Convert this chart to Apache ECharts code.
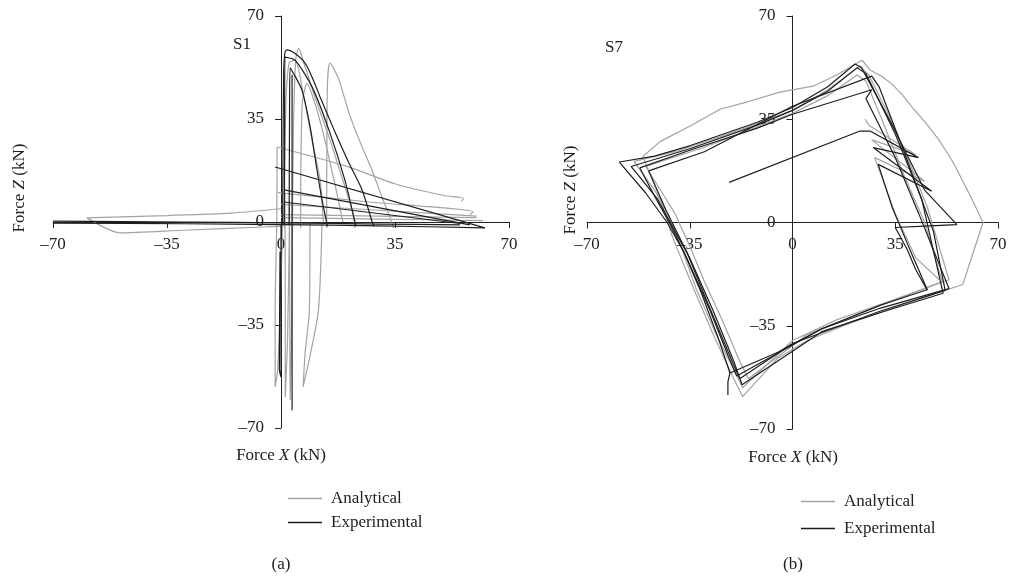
<!DOCTYPE html>
<html>
<head>
<meta charset="utf-8">
<script src="https://cdn.jsdelivr.net/npm/echarts@6/dist/echarts.min.js"></script>
<style>
  html, body { margin: 0; padding: 0; background: #fff; }
  #main { width: 1010px; height: 582px; }
</style>
</head>
<body>
<div id="main"></div>
<script>
// 刻度
var ticks = [-70, -35, 0, 35, 70];

// S1 试验曲线 (Force X, Force Z)
var expA = [
    [[-70, 0.3], [-30, 0], [0, -0.3], [30, -0.7], [55, -1]],
    [[-70, -0.4], [-30, -0.6], [0, -0.9], [30, -1.3], [62.6, -2]],
    [[0.5, -1], [0.6, 20], [0.8, 50], [1.2, 57.5], [1.8, 58.5], [4, 57.5], [7.4, 54], [10, 48], [12, 42.5], [16.3, 31.3], [20.9, 20], [24.9, 10.9], [28, 0], [28.5, -1.5]],
    [[1, -1], [1.1, 30], [1.2, 56], [4.3, 55], [9.5, 46], [14.7, 31.3], [19.6, 14.3], [22.7, 0], [23, -1.5]],
    [[2.5, -1], [2.6, 30], [2.8, 52.4], [6.4, 44.9], [9, 32], [11, 18], [12.5, 8], [14, 0], [14.3, -1.5]],
    [[3.4, 50], [3.4, 0], [3.4, -30], [3.4, -64]],
    [[0, -1], [0, -30], [0, -52.7], [-0.5, -50], [-0.3, -10]],
    [[62.6, -2], [-1.8, 18.7]],
    [[58, -1], [0.9, 10.9]],
    [[55, -0.5], [0.9, 6.8]]
];

// S1 分析曲线
var anaA = [
    [[3.5, -5], [3.8, 30], [4.5, 55], [5.4, 59], [7.4, 52.7], [10.4, 42.5], [14.7, 29], [18.7, 15.3], [21.8, 4], [22.5, 0], [22.6, -2]],
    [[14, -2], [14.1, 30], [14.3, 48], [15, 54], [16, 52.5], [17.8, 48.3], [20.9, 37], [24, 27.9], [27.9, 17.7], [31, 8.5], [34, 0], [34.5, -2]],
    [[1, -2], [1.5, 40], [2.5, 54], [4.3, 55], [7, 42.6], [9.5, 27.9], [12, 14.3], [13, 0]],
    [[6, -2], [6.5, 40], [8, 47], [10.5, 40], [13, 30], [15.5, 18], [17.5, 8], [19, 0]],
    [[-1.2, 25.5], [-1.3, 0], [-1.8, -30], [-1.8, -56], [-1, -50], [0, -20], [0.5, 0]],
    [[1.2, 10], [1.3, -20], [1.3, -59.5], [2, -40], [2.6, 0]],
    [[2.6, 5], [2.7, -30], [2.8, -60.5], [3.2, -40], [3.5, -5]],
    [[8.9, 0], [8.7, -30], [7.4, -44.5], [6.8, -56], [9, -45], [11.5, -30], [12.6, 0]],
    [[-1.2, 25.5], [20, 19], [35, 13], [50, 9], [56, 8], [55.5, 7]],
    [[-1, 10], [27, 6.8], [59, 3.4], [58, 2.5]],
    [[0, 6], [30, 4], [60, 2]],
    [[-59.6, 1.4], [-35, 2.2], [-15.7, 3], [0, 4.5]],
    [[-59.6, 1.4], [-49.4, -3.7], [-30, -2.8], [-5.5, -1.7], [0, -1.5]],
    [[0, 1.5], [30, 1], [62, 0.5]],
    [[0, 2.5], [30, 2], [60, 1.5]]
];

// S7 试验曲线
var expB = [
    [[-59, 20.5], [-47, 22.5], [-35, 26], [-12, 34], [0, 39], [12, 46], [21.3, 53.7], [23.5, 52.5], [34, 33], [45, 11], [56, -0.7], [45, -1.2], [35, -1.7], [39, -9], [42, -16], [45.8, -22.8], [30, -28], [10, -36], [-5, -44], [-21.3, -51], [-22, -54], [-22, -58.5]],
    [[-21.3, -51], [-25, -40], [-31, -24], [-37, -10], [-42.7, 0], [-50, 10], [-59, 20.5]],
    [[-55, 19], [-35, 25], [-12, 33], [0, 38], [12, 44.5], [22, 52.5], [25, 50.5], [35, 30], [44, 8], [51.3, -24], [30, -30.5], [10, -37], [-17.2, -55], [-20, -47], [-27, -30], [-35, -12], [-40, -3], [-46, 8], [-55, 19]],
    [[-52, 18.5], [-35, 24.5], [-12, 32], [0, 36.7], [27, 45], [25, 42], [35, 22], [43, 3], [53.3, -22.4], [30, -29], [10, -36], [-19, -52], [-22, -45], [-28, -30], [-36, -12], [-42, 0], [-47, 9], [-52, 18.5]],
    [[-49, 17.5], [-30, 24], [0, 39.4], [27, 49.6], [29.5, 46], [38, 24], [48, -3], [52, -23], [30, -30], [0, -41], [-18, -53], [-21, -46], [-29, -27], [-36, -10], [-43, 4], [-49, 17.5]],
    [[-21.6, 13.6], [23, 31], [26.4, 31], [42.9, 22], [27.5, 25.4], [47.4, 10.6], [29.2, 19.7], [34, 5], [40, -9.2], [46, -23]]
];

// S7 分析曲线
var anaB = [
    [[-51, 22.4], [-45, 27.5], [-35, 32.6], [-24.7, 38.4], [-15, 41], [-4.3, 44.2], [7, 46.2], [15, 50], [23.7, 55], [26.4, 51.7], [30.5, 49.5], [33.9, 46.9], [37.5, 43.2], [41, 38.8], [44, 35.4], [46.8, 32], [49.8, 28.1], [52.6, 23.8], [55.3, 19.3], [57.7, 14.6], [60.3, 9.6], [62.8, 4.4], [64, 1.9], [64.9, 0], [58, -21], [40, -27], [20, -34], [5, -40], [-5, -46], [-17, -59], [-20, -53], [-27, -38], [-33, -24], [-38, -12], [-41, -4.6], [-45, 8], [-51, 22.4]],
    [[-54, 20.7], [-40, 24], [-25, 29], [-12, 33.5], [0, 38], [12, 45], [23, 53], [26, 50], [33, 36], [40, 20], [46, 5], [53.3, -19.4], [35, -26], [15, -33], [0, -40], [-17, -56], [-20, -50], [-26, -38], [-33, -22], [-38, -8], [-42, 2], [-47, 11], [-54, 20.7]],
    [[-50, 19], [-30, 25.5], [0, 37], [12, 43], [22, 50], [25, 48], [30, 36], [38, 16], [45, 0], [51, -20], [30, -28], [5, -38], [-15, -53], [-18, -47], [-24, -33], [-30, -20], [-35, -8], [-40, 3], [-45, 11], [-50, 19]],
    [[24.7, 35], [26, 33], [42, 23], [27, 28], [45, 14], [28, 22], [35, 3], [42, -12], [50, -19.4]]
];

var fontFam = '"Liberation Serif", "DejaVu Serif", serif';
var gray = '#a3a3a3';
var black = '#1e1e1e';

// 网格：坐标轴交于 0 点（用 offset 把轴移到零点）
var grids = [
    { left: 53, top: 16, width: 456, height: 412 },
    { left: 587, top: 16, width: 411, height: 413 }
];

function tickText(v) {
    return String(v).replace('-', '\u2013');
}

function makeAxis(i, isX) {
    var g = grids[i];
    return {
        gridIndex: i,
        type: 'value',
        min: ticks[0],
        max: ticks[ticks.length - 1],
        interval: 35,
        position: isX ? 'bottom' : 'left',
        offset: isX ? -g.height / 2 : -g.width / 2,
        splitLine: { show: false },
        axisLine: { onZero: false, lineStyle: { color: '#222', width: 1 } },
        axisTick: { length: 6, lineStyle: { color: '#222' } },
        axisLabel: {
            formatter: tickText,
            color: '#222',
            fontSize: 17,
            fontFamily: fontFam,
            margin: isX ? 14 : 17
        }
    };
}

var series = [];
function addSegs(segs, name, color, idx, smooth) {
    segs.forEach(function (seg) {
        series.push({
            name: name,
            type: 'line',
            xAxisIndex: idx,
            yAxisIndex: idx,
            data: seg,
            symbol: 'none',
            smooth: smooth,
            lineStyle: { color: color, width: 1.2 },
            itemStyle: { color: color },
            animation: false
        });
    });
}
addSegs(anaA, 'Analytical', gray, 0, 0.25);
addSegs(expA, 'Experimental', black, 0, 0.25);
addSegs(anaB, 'Analytical', gray, 1, false);
addSegs(expB, 'Experimental', black, 1, false);

var txt = function (x, y, str, rot) {
    return {
        type: 'text',
        x: x,
        y: y,
        rotation: rot || 0,
        style: {
            text: str,
            fill: '#222',
            fontSize: 17,
            fontFamily: fontFam,
            align: 'center',
            verticalAlign: 'middle',
            rich: {
                n: { fontSize: 17, fontFamily: fontFam, fill: '#222' },
                i: { fontSize: 17, fontFamily: fontFam, fontStyle: 'italic', fill: '#222' }
            }
        }
    };
};

var legendBase = {
    orient: 'vertical',
    icon: 'rect',
    itemWidth: 34,
    itemHeight: 1.5,
    data: ['Analytical', 'Experimental'],
    textStyle: { color: '#222', fontSize: 17, fontFamily: fontFam, padding: [0, 0, 0, 4] },
    selectedMode: false
};

var chart = echarts.init(document.getElementById('main'));
var option = {
    backgroundColor: '#fff',
    animation: false,
    grid: grids,
    xAxis: [makeAxis(0, true), makeAxis(1, true)],
    yAxis: [makeAxis(0, false), makeAxis(1, false)],
    legend: [
        Object.assign({ left: 283, top: 485, itemGap: 7 }, legendBase),
        Object.assign({ left: 796, top: 488, itemGap: 10 }, legendBase)
    ],
    graphic: [
        txt(242, 45, 'S1'),
        txt(614, 48, 'S7'),
        txt(20, 188, '{n|Force }{i|Z}{n| (kN)}', Math.PI / 2),
        txt(571, 190, '{n|Force }{i|Z}{n| (kN)}', Math.PI / 2),
        txt(281, 456, '{n|Force }{i|X}{n| (kN)}'),
        txt(793, 458, '{n|Force }{i|X}{n| (kN)}'),
        txt(281, 565, '(a)'),
        txt(793, 565, '(b)')
    ],
    series: series
};
chart.setOption(option);
</script>
</body>
</html>
